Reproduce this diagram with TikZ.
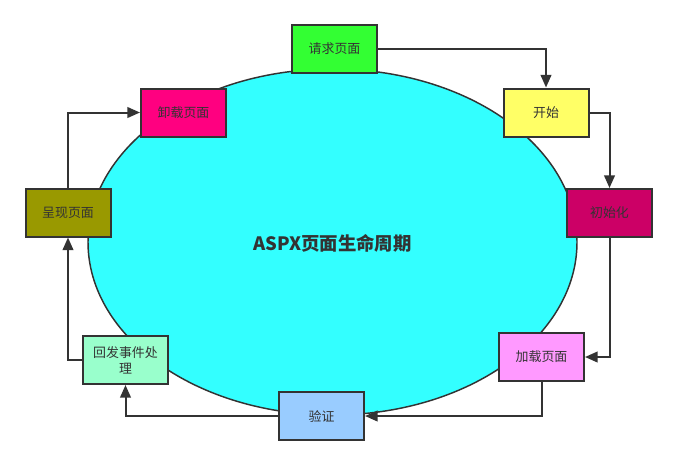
\documentclass[tikz,border=0pt]{standalone}
\usepackage{fontspec}
\setmainfont{Noto Sans CJK SC}
\usetikzlibrary{arrows.meta}
\definecolor{ink}{HTML}{333333}
\tikzset{
  box/.style={draw=ink, line width=1.5pt, minimum width=63.75pt, minimum height=36pt, inner sep=0pt, text=ink, font=\fontsize{9.7pt}{12pt}\selectfont, align=center},
  conn/.style={draw=ink, line width=1.5pt, -{Triangle[length=9.5pt,width=8pt]}}
}
\begin{document}
\begin{tikzpicture}[x=0.75pt,y=-0.75pt]
\useasboundingbox (0,0) rectangle (677,465);
\fill[white] (0,0) rectangle (677,465);
\draw[ink, line width=1.1pt, fill={rgb,255:red,51;green,255;blue,255}] (332.5,242) ellipse [x radius=244.5, y radius=173];
\node[text=ink, font=\bfseries\fontsize{13.8pt}{16pt}\selectfont] (title) at (332.5,243) {ASPX页面生命周期};
\node[box, fill={rgb,255:red,51;green,255;blue,51}] (req) at (334.5,48.5) {请求页面};
\node[box, fill={rgb,255:red,255;green,255;blue,102}] (start) at (546,112.5) {开始};
\node[box, fill={rgb,255:red,204;green,0;blue,102}] (init) at (609.5,213) {初始化};
\node[box, fill={rgb,255:red,255;green,153;blue,255}] (load) at (541.5,357) {加载页面};
\node[box, fill={rgb,255:red,153;green,204;blue,255}] (valid) at (321.5,416) {验证};
\node[box, fill={rgb,255:red,153;green,255;blue,204}] (post) at (125.5,360) {回发事件处\\理};
\node[box, fill={rgb,255:red,153;green,153;blue,0}] (render) at (68,212.5) {呈现页面};
\node[box, fill={rgb,255:red,255;green,0;blue,128}] (unload) at (183.5,112.5) {卸载页面};
\draw[conn] (req.east) -| (start.north);
\draw[conn] (start.east) -| (init.north);
\draw[conn] (init.south) |- (load.east);
\draw[conn] (load.south) |- (valid.east);
\draw[conn] (valid.west) -| (post.south);
\draw[conn] (post.west) -| (render.south);
\draw[conn] (render.north) |- (unload.west);
\end{tikzpicture}
\end{document}
